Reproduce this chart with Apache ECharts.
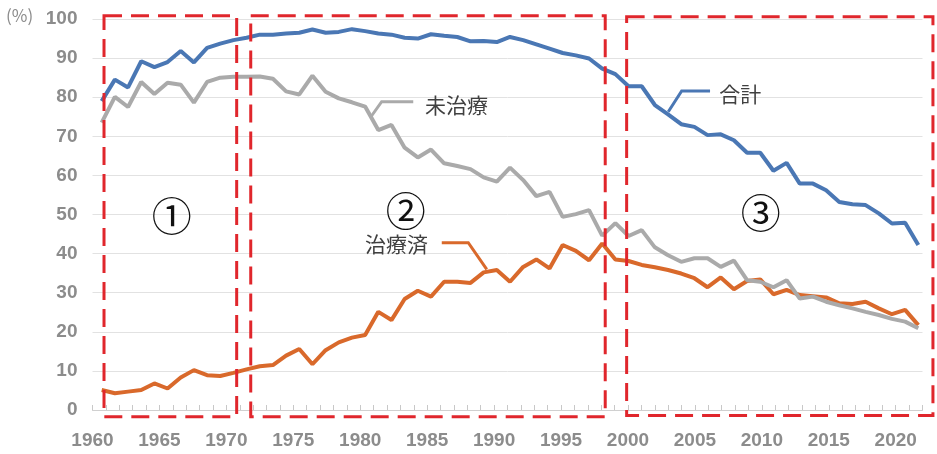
<!DOCTYPE html>
<html lang="ja">
<head>
<meta charset="UTF-8">
<title>治療済・未治療の推移</title>
<style>
  html, body { margin: 0; padding: 0; background: #fff; }
  #chart { width: 937px; height: 454px; }
</style>
</head>
<body>
<div id="chart"></div>
<script src="https://cdn.jsdelivr.net/npm/echarts/dist/echarts.min.js"></script>
<script>
// 年（1960〜2022）
var years = [];
for (var yr = 1960; yr <= 2022; yr++) years.push(String(yr));

// 合計
var goukei = [
  79.0, 84.5, 82.5, 89.2, 87.7, 89.0, 91.8, 88.9, 92.6, 93.7,
  94.6, 95.2, 96.0, 96.0, 96.3, 96.5, 97.3, 96.5, 96.7, 97.4,
  96.9, 96.3, 96.0, 95.2, 95.0, 96.1, 95.7, 95.4, 94.3, 94.4,
  94.1, 95.4, 94.6, 93.5, 92.4, 91.3, 90.7, 89.9, 87.3, 85.9,
  82.8, 82.8, 78.0, 75.6, 73.1, 72.4, 70.3, 70.5, 69.0, 65.8,
  65.8, 61.2, 63.2, 57.9, 57.9, 56.2, 53.2, 52.6, 52.4, 50.3,
  47.7, 47.9, 42.2
];
// 未治療
var michiryo = [
  73.5, 80.1, 77.5, 83.9, 80.8, 83.7, 83.2, 78.6, 83.9, 85.0,
  85.2, 85.2, 85.3, 84.7, 81.5, 80.7, 85.5, 81.4, 79.7, 78.7,
  77.6, 71.6, 72.9, 67.1, 64.6, 66.6, 63.1, 62.4, 61.6, 59.5,
  58.4, 62.0, 58.8, 54.7, 55.8, 49.4, 50.1, 51.1, 44.6, 47.8,
  44.5, 46.0, 41.6, 39.6, 37.9, 38.8, 38.8, 36.6, 38.2, 33.2,
  32.8, 31.4, 33.2, 28.5, 29.0, 27.7, 26.8, 26.0, 25.1, 24.3,
  23.3, 22.6, 20.9
];
// 治療済
var chiryozumi = [
  5.1, 4.3, 4.7, 5.1, 6.8, 5.5, 8.3, 10.2, 8.9, 8.7,
  9.5, 10.4, 11.2, 11.5, 13.9, 15.6, 11.7, 15.3, 17.3, 18.5,
  19.2, 25.1, 23.0, 28.4, 30.5, 29.0, 32.8, 32.8, 32.5, 35.2,
  35.8, 32.8, 36.6, 38.5, 36.2, 42.2, 40.7, 38.3, 42.6, 38.5,
  38.1, 37.1, 36.5, 35.8, 34.9, 33.7, 31.4, 33.9, 30.9, 33.0,
  33.4, 29.6, 30.7, 29.4, 29.1, 28.8, 27.3, 27.1, 27.7, 26.0,
  24.5, 25.6, 21.7
];

var BLUE = '#4a77b4', ORANGE = '#d9692b', GRAY = '#aaaaaa', RED = '#e0262c';
var NUM_FONT = '"Liberation Sans", Arial, sans-serif';
var JP_FONT = '"Noto Sans CJK JP", sans-serif';

var chart = echarts.init(document.getElementById('chart'));

chart.setOption({
  animation: false,
  backgroundColor: '#ffffff',
  grid: [
    // 折れ線用
    { left: 101.7, right: 18.7, top: 19, bottom: 44, outerBoundsMode: 'none' },
    // 目盛・罫線用
    { left: 92.5, right: 14.5, top: 19, bottom: 44, outerBoundsMode: 'none' }
  ],
  xAxis: [
    { gridIndex: 0, type: 'category', data: years, boundaryGap: false, show: false },
    {
      gridIndex: 1, type: 'value', min: 1960, max: 2022, interval: 5,
      axisLine: { show: true, lineStyle: { color: '#d0d0d0', width: 1 } },
      axisTick: { show: true, inside: true, length: 5, lineStyle: { color: '#c8c8c8' } },
      minorTick: { show: true, splitNumber: 5, length: 5, lineStyle: { color: '#c8c8c8' } },
      splitLine: { show: false },
      axisLabel: {
        color: '#8c8c8c', fontSize: 19, fontWeight: 'bold', fontFamily: NUM_FONT,
        margin: 21, showMaxLabel: false,
        formatter: function (v) { return String(v); }
      }
    }
  ],
  yAxis: [
    { gridIndex: 0, type: 'value', min: 0, max: 100, show: false },
    {
      gridIndex: 1, type: 'value', min: 0, max: 100, interval: 10,
      axisLine: { show: false },
      axisTick: { show: false },
      splitLine: { show: true, lineStyle: { color: '#e2e2e2', width: 1 } },
      axisLabel: {
        color: '#8c8c8c', fontSize: 19, fontWeight: 'bold', fontFamily: NUM_FONT, margin: 15
      }
    }
  ],
  series: [
    {
      name: '治療済', type: 'line', xAxisIndex: 0, yAxisIndex: 0,
      data: chiryozumi, symbol: 'none',
      lineStyle: { color: ORANGE, width: 4 }, itemStyle: { color: ORANGE }
    },
    {
      name: '未治療', type: 'line', xAxisIndex: 0, yAxisIndex: 0,
      data: michiryo, symbol: 'none',
      lineStyle: { color: GRAY, width: 4 }, itemStyle: { color: GRAY }
    },
    {
      name: '合計', type: 'line', xAxisIndex: 0, yAxisIndex: 0,
      data: goukei, symbol: 'none',
      lineStyle: { color: BLUE, width: 4 }, itemStyle: { color: BLUE }
    }
  ]
});

// 注記（年, %）で指定して画素に変換
function px(p) { return chart.convertToPixel({ gridIndex: 1 }, p); }

var periodBoxes = [
  [1960.86, 100.85, 1970.77, -1.7],
  [1971.82, 100.85, 1998.30, -1.7],
  [1999.90, 100.60, 2022.78, -1.4]
];
var periodMarks = [
  { text: '①', at: [1965.92, 49.7] },
  { text: '②', at: [1983.40, 51.0] },
  { text: '③', at: [2009.92, 50.5] }
];
var leaders = [
  { color: GRAY, pts: [[1980.80, 75.0], [1981.60, 78.85], [1983.96, 78.85]],
    label: '未治療', at: [1984.84, 78.0] },
  { color: ORANGE, pts: [[1989.45, 35.98], [1988.07, 42.79], [1986.09, 42.79]],
    label: '治療済', at: [1980.35, 42.5] },
  { color: BLUE, pts: [[2003.01, 76.29], [2004.01, 81.59], [2006.13, 81.59]],
    label: '合計', at: [2006.82, 80.8] }
];

var g = [];
periodBoxes.forEach(function (b) {
  var a = px([b[0], b[1]]), c = px([b[2], b[3]]);
  g.push({
    type: 'rect', z: 100,
    shape: { x: a[0], y: a[1], width: c[0] - a[0], height: c[1] - a[1] },
    style: { fill: 'none', stroke: RED, lineWidth: 3, lineDash: [18, 9] }
  });
});
periodMarks.forEach(function (m) {
  var p = px(m.at);
  g.push({
    type: 'text', z: 100, x: p[0], y: p[1],
    style: { text: m.text, font: '40px ' + JP_FONT, fill: '#111',
             textAlign: 'center', textVerticalAlign: 'middle' }
  });
});
leaders.forEach(function (l) {
  g.push({
    type: 'polyline', z: 90,
    shape: { points: l.pts.map(px) },
    style: { fill: 'none', stroke: l.color, lineWidth: 3 }
  });
  var p = px(l.at);
  g.push({
    type: 'text', z: 100, x: p[0], y: p[1],
    style: { text: l.label, font: '21px ' + JP_FONT, fill: '#404040',
             textAlign: 'left', textVerticalAlign: 'middle' }
  });
});
g.push({
  type: 'text', left: 6, top: 7, z: 100,
  style: { text: '(%)', font: '17px ' + JP_FONT, fill: '#8c8c8c' }
});

chart.setOption({ graphic: g });
</script>
</body>
</html>
